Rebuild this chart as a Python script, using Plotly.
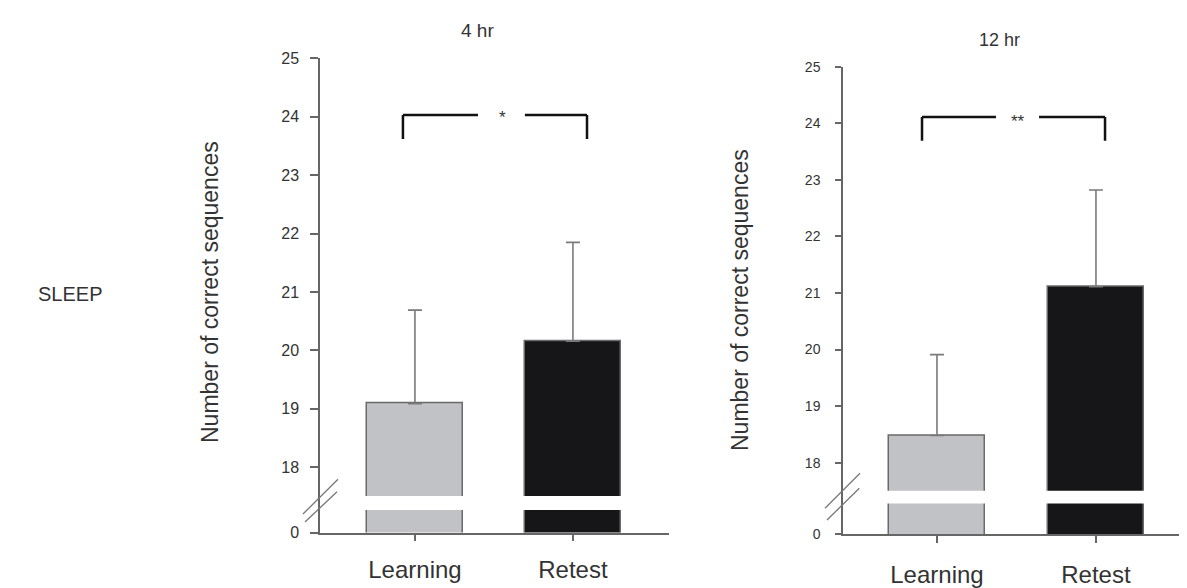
import plotly.graph_objects as go

# ---- data ----
categories = ["Learning", "Retest"]
means_4hr = [19.09, 20.16]
err_4hr = [1.60, 1.69]
means_12hr = [18.48, 21.11]
err_12hr = [1.43, 1.71]
ytick_vals = [18, 19, 20, 21, 22, 23, 24, 25]
ytick_text = ["18", "19", "20", "21", "22", "23", "24", "25"]
panel_titles = ["4 hr", "12 hr"]
sig_labels = ["*", "**"]
row_label = "SLEEP"
y_title = "Number of correct sequences"

# ---- style / layout constants ----
W, H = 1187, 588
PAGE_OFF = 8  # page body margin shifts the figure by this many px
bar_fill = ["#c1c2c6", "#161618"]
bar_line = "#6a6a6a"
axis_col = "#666666"
text_col = "#333333"
FONT = "Liberation Sans, Arial, sans-serif"

floor_4 = 16.884    # axis bottom ("0" after the break)
floor_12 = 16.74
gap_4 = (17.27, 17.51)
gap_12 = (17.28, 17.505)


def px(x):
    return (x - PAGE_OFF) / W


def py(y):
    return 1 - (y - PAGE_OFF) / H


fig = go.Figure()

fig.add_trace(go.Bar(
    x=[0, 1], y=means_4hr, width=0.608,
    marker=dict(color=bar_fill, line=dict(color=bar_line, width=1.5)),
    error_y=dict(type="data", symmetric=False, array=err_4hr, arrayminus=[0, 0],
                 color="#7a7a7a", thickness=1.6, width=7),
    xaxis="x", yaxis="y", showlegend=False))

fig.add_trace(go.Bar(
    x=[0, 1], y=means_12hr, width=0.6,
    marker=dict(color=bar_fill, line=dict(color=bar_line, width=1.5)),
    error_y=dict(type="data", symmetric=False, array=err_12hr, arrayminus=[0, 0],
                 color="#7a7a7a", thickness=1.6, width=7),
    xaxis="x2", yaxis="y2", showlegend=False))

common_axis = dict(showline=True, linecolor=axis_col, linewidth=1.5, ticks="outside",
                   tickcolor=axis_col, tickwidth=1.5, showgrid=False, zeroline=False,
                   fixedrange=True, automargin=False)

fig.update_layout(
    width=W, height=H, autosize=False,
    margin=dict(l=0, r=0, t=0, b=0, pad=0),
    paper_bgcolor="white", plot_bgcolor="white",
    font=dict(family=FONT, color=text_col),
    bargap=0,
    xaxis=dict(domain=[px(320), px(669)], range=[-0.601, 1.608], anchor="y",
               tickvals=[0, 1], ticktext=categories, ticklen=7,
               tickfont=dict(size=24, color=text_col), ticklabelstandoff=8,
               **common_axis),
    yaxis=dict(domain=[py(532.5), py(58.3)], range=[floor_4, 25], anchor="x",
               tickvals=[floor_4] + ytick_vals, ticktext=["0"] + ytick_text, ticklen=8,
               tickfont=dict(size=16, color=text_col), ticklabelstandoff=8,
               **common_axis),
    xaxis2=dict(domain=[px(843), px(1185)], range=[-0.591, 1.56], anchor="y2",
                tickvals=[0, 1], ticktext=categories, ticklen=7,
                tickfont=dict(size=24, color=text_col), ticklabelstandoff=11,
                **common_axis),
    yaxis2=dict(domain=[py(534), py(66.7)], range=[floor_12, 25], anchor="x2",
                tickvals=[floor_12] + ytick_vals, ticktext=["0"] + ytick_text, ticklen=6,
                tickfont=dict(size=14, color=text_col), ticklabelstandoff=12,
                **common_axis),
)

shapes = []
# white gaps across the bars (axis break)
shapes.append(dict(type="rect", xref="x", yref="y", x0=-0.4, x1=1.4, y0=gap_4[0], y1=gap_4[1],
                   fillcolor="white", line=dict(width=0), layer="above"))
shapes.append(dict(type="rect", xref="x2", yref="y2", x0=-0.4, x1=1.4, y0=gap_12[0], y1=gap_12[1],
                   fillcolor="white", line=dict(width=0), layer="above"))

# break slashes on the y axes
for (x0, y0, x1, y1) in [(303, 514, 338, 479.3), (305, 522, 337, 491.7),
                         (825, 508.3, 860, 473.3), (827, 520, 859.3, 488.3)]:
    shapes.append(dict(type="line", xref="paper", yref="paper",
                       x0=px(x0), y0=py(y0), x1=px(x1), y1=py(y1),
                       line=dict(color="#777777", width=1.3)))


# significance brackets
def bracket(xr, yr, xl, xr_, xs1, xs2, ytop, ybot):
    out = []
    ln = dict(color="#111111", width=2.5)
    out.append(dict(type="line", xref=xr, yref=yr, x0=xl, x1=xl, y0=ybot, y1=ytop, line=ln))
    out.append(dict(type="line", xref=xr, yref=yr, x0=xr_, x1=xr_, y0=ybot, y1=ytop, line=ln))
    out.append(dict(type="line", xref=xr, yref=yr, x0=xl, x1=xs1, y0=ytop, y1=ytop, line=ln))
    out.append(dict(type="line", xref=xr, yref=yr, x0=xs2, x1=xr_, y0=ytop, y1=ytop, line=ln))
    return out


shapes += bracket("x", "y", -0.076, 1.089, 0.399, 0.696, 24.03, 23.62)
shapes += bracket("x2", "y2", -0.094, 1.057, 0.371, 0.642, 24.11, 23.69)
fig.update_layout(shapes=shapes)

ann_common = dict(showarrow=False, xanchor="center", yanchor="middle")
annotations = [
    dict(text=sig_labels[0], xref="x", yref="y", x=0.557, y=23.98,
         font=dict(size=17, color="#333333"), **ann_common),
    dict(text=sig_labels[1], xref="x2", yref="y2", x=0.51, y=24.04,
         font=dict(size=17, color="#333333"), **ann_common),
    dict(text=panel_titles[0], xref="paper", yref="paper", x=px(477), y=py(30),
         font=dict(size=19, color=text_col), **ann_common),
    dict(text=panel_titles[1], xref="paper", yref="paper", x=px(1000), y=py(40),
         font=dict(size=18, color=text_col), **ann_common),
    dict(text=row_label, xref="paper", yref="paper", x=px(70), y=py(294),
         font=dict(size=20, color=text_col), **ann_common),
    dict(text=y_title, xref="paper", yref="paper", x=px(210), y=py(292), textangle=-90,
         font=dict(size=23, color=text_col), **ann_common),
    dict(text=y_title, xref="paper", yref="paper", x=px(740), y=py(300), textangle=-90,
         font=dict(size=23, color=text_col), **ann_common),
]
fig.update_layout(annotations=annotations)

fig.write_html("out.html")
